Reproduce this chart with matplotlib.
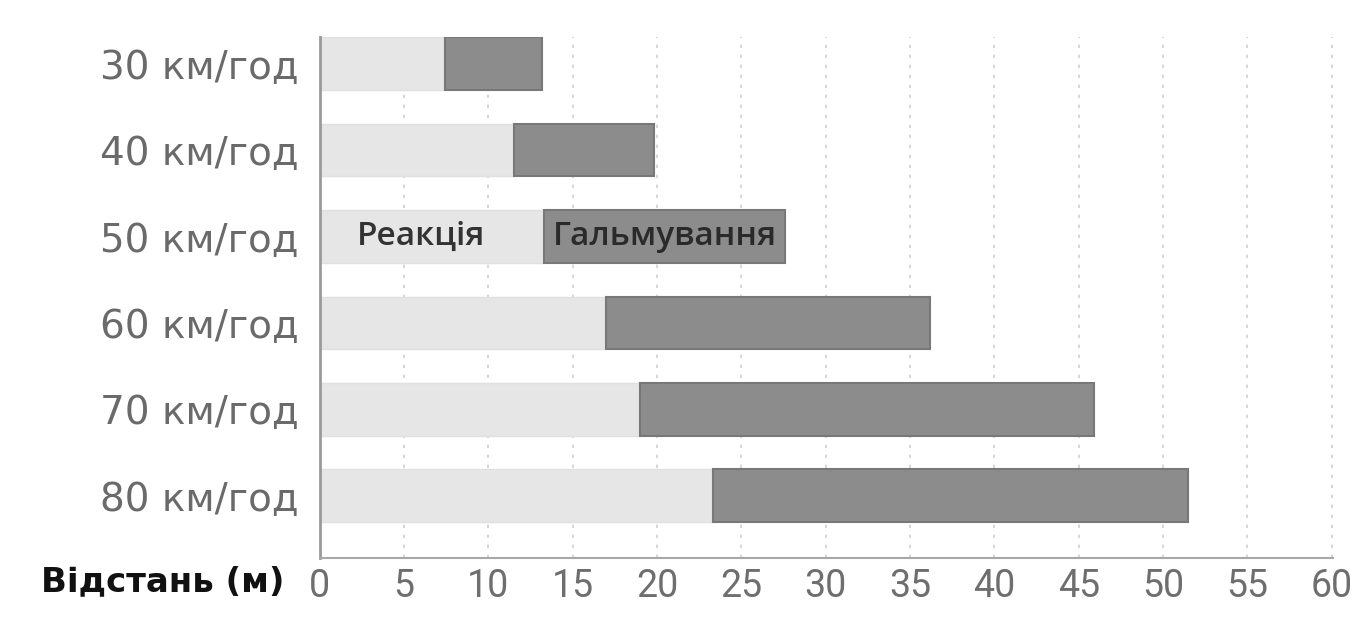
import matplotlib.pyplot as plt

# швидкість, час реакції та гальмування (м)
speeds = ['30 км/год', '40 км/год', '50 км/год', '60 км/год', '70 км/год', '80 км/год']
reaction = [7.4, 11.5, 13.3, 17.0, 19.0, 23.3]
braking = [5.8, 8.3, 14.3, 19.2, 26.9, 28.2]
xticks = [0, 5, 10, 15, 20, 25, 30, 35, 40, 45, 50, 55, 60]

plt.rcParams['font.family'] = ['Open Sans', 'DejaVu Sans']

fig = plt.figure(figsize=(13.55, 6.19), dpi=100)
ax = fig.add_axes([0.236, 0.0985, 0.748, 0.842])

y = list(range(len(speeds)))
ax.barh(y, reaction, height=0.61, color='#e6e6e6', edgecolor='#e0e0e0', zorder=2)
ax.barh(y, braking, left=reaction, height=0.61, color='#8c8c8c',
        edgecolor='#787878', linewidth=1.5, zorder=2)

# підписи всередині смуги 50 км/год
ax.text(reaction[2] * 0.45, 2, 'Реакція', ha='center', va='center',
        fontsize=24, fontweight='semibold', color='#333333', zorder=3)
ax.text(reaction[2] + braking[2] / 2, 2, 'Гальмування', ha='center', va='center',
        fontsize=24, fontweight='semibold', color='#2a2a2a', zorder=3)

ax.set_ylim(5.72, -0.31)
ax.set_xlim(0, 60.1)
ax.set_yticks(y)
ax.set_yticklabels(speeds, fontsize=28, color='#6a6a6a', family=['DejaVu Sans'])
ax.set_xticks(xticks)
ax.set_xticklabels([str(t) for t in xticks], fontsize=27, color='#6e6e6e',
                   family=['Roboto', 'DejaVu Sans'])
ax.tick_params(axis='x', length=0, pad=7)
ax.tick_params(axis='y', length=0, pad=15)

ax.grid(axis='x', linestyle=(0, (2, 4)), color='#cfcfcf', linewidth=1.2, zorder=0)
for s in ['top', 'right']:
    ax.spines[s].set_visible(False)
ax.spines['left'].set_color('#9a9a9a')
ax.spines['left'].set_linewidth(2)
ax.spines['bottom'].set_color('#a8a8a8')
ax.spines['bottom'].set_linewidth(1.5)

fig.text(0.03, 0.06, 'Відстань (м)', fontsize=24.5, fontweight='bold',
         color='#111111', va='center', family=['DejaVu Sans'])

fig.savefig('out.png', dpi=100)
